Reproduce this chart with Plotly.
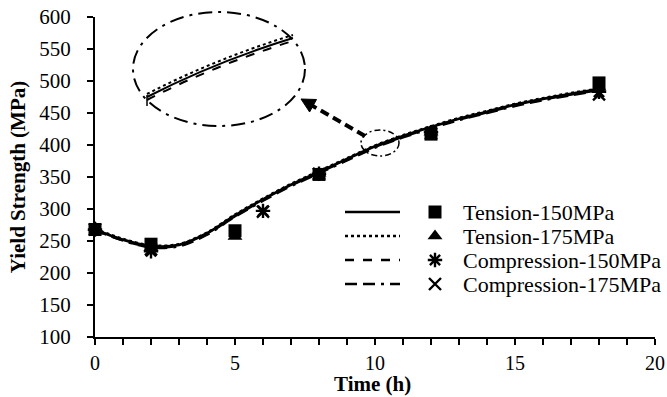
import plotly.graph_objects as go

# ---------------- data ----------------
curve_t = [0, 1, 2, 3, 4, 5, 6, 7, 8, 9, 10, 11, 12, 13, 14, 15, 16, 17, 18]
curve_t150 = [268, 252, 242, 244, 262, 290, 315, 338, 358, 378, 398, 414, 428, 441, 452, 463, 472, 480, 487]
curve_t175 = [269, 253, 243, 245, 263, 291, 316, 339, 359, 379, 399, 415, 429, 442, 453, 464, 473, 481, 488]
curve_c150 = [267, 251, 241, 243, 261, 289, 314, 337, 357, 377, 397, 413, 427, 440, 451, 462, 471, 479, 486]
curve_c175 = [267, 251, 240, 242, 260, 288, 313, 336, 356, 376, 396, 412, 426, 439, 450, 461, 470, 478, 485]

t_tension = [0, 2, 5, 8, 12, 18]
y_t150 = [268, 245, 266, 354, 417, 497]
y_t175 = [271, 240, 257, 356, 420, 490]

t_comp = [0, 2, 6, 8, 12, 18]
y_c150 = [268, 234, 297, 355, 420, 483]
y_c175 = [268, 237, 296, 355, 418, 479]

series_names = ["Tension-150MPa", "Tension-175MPa", "Compression-150MPa", "Compression-175MPa"]

x_ticks = [0, 5, 10, 15, 20]
y_ticks = [100, 150, 200, 250, 300, 350, 400, 450, 500, 550, 600]

# ---------------- layout geometry (pixels) ----------------
W, H = 667, 397
L, R, T, B = 95, 12, 17, 60
PW, PH = W - L - R, H - T - B


def px(x, y):
    """pixel -> paper coordinates"""
    return (x - L) / PW, (H - B - y) / PH


FONT = "Liberation Serif, Times New Roman, serif"
BLACK = "black"

fig = go.Figure()

line_styles = ["solid", "dot", "dash", "12px,6px,12px,6px,3px,6px"]
curves = [curve_t150, curve_t175, curve_c150, curve_c175]
for name, yv, dash in zip(series_names, curves, line_styles):
    fig.add_trace(go.Scatter(x=curve_t, y=yv, mode="lines", line=dict(color=BLACK, width=2.7, dash=dash, shape="spline", smoothing=1.0),
                             showlegend=False, name=name + " fit"))

marker_defs = [
    dict(symbol="x-thin-open", size=12, color=BLACK, line=dict(color=BLACK, width=2.4)),
    dict(symbol="asterisk-open", size=12, color=BLACK, line=dict(color=BLACK, width=2.4)),
    dict(symbol="triangle-up", size=13, color=BLACK, line=dict(width=0)),
    dict(symbol="square", size=13, color=BLACK, line=dict(width=0)),
]
pts = [(t_comp, y_c175), (t_comp, y_c150), (t_tension, y_t175), (t_tension, y_t150)]
for (tx, ty), md in zip(pts, marker_defs):
    fig.add_trace(go.Scatter(x=tx, y=ty, mode="markers", marker=md, showlegend=False, cliponaxis=False))

# ---------------- manual legend ----------------
rows_y = [212, 236, 260, 284]
leg_marks = [marker_defs[3], marker_defs[2], marker_defs[1], marker_defs[0]]
shapes = []
annotations = []
for i, (name, dash, md) in enumerate(zip(series_names, line_styles, leg_marks)):
    yy = rows_y[i]
    x0, y0 = px(345, yy)
    x1, _ = px(400, yy)
    shapes.append(dict(type="line", xref="paper", yref="paper", x0=x0, y0=y0, x1=x1, y1=y0,
                       line=dict(color=BLACK, width=2.7, dash=dash)))
    fig.add_trace(go.Scatter(x=[435], y=[yy], mode="markers", marker=md, xaxis="x2", yaxis="y2",
                             showlegend=False, cliponaxis=False, hoverinfo="skip"))
    tx, ty = px(461, yy)
    annotations.append(dict(x=tx, y=ty, xref="paper", yref="paper", text=name, showarrow=False,
                            xanchor="left", yanchor="middle", font=dict(family=FONT, size=22, color=BLACK)))

# x-axis title as annotation (fixed position)
tx, ty = px(372, 384)
annotations.append(dict(x=tx, y=ty, xref="paper", yref="paper", text="<b>Time (h)</b>", showarrow=False,
                        xanchor="center", yanchor="middle", font=dict(family=FONT, size=21, color=BLACK)))

# ---------------- magnifier decoration ----------------
ex0, ey1 = px(133, 12)
ex1, ey0 = px(305, 126)
shapes.append(dict(type="circle", xref="paper", yref="paper", x0=ex0, y0=ey0, x1=ex1, y1=ey1,
                   line=dict(color=BLACK, width=2, dash="14px,6px,3px,6px")))
sx0, sy1 = px(361, 130)
sx1, sy0 = px(399, 156)
shapes.append(dict(type="circle", xref="paper", yref="paper", x0=sx0, y0=sy0, x1=sx1, y1=sy1,
                   line=dict(color=BLACK, width=1.5, dash="6px,3px,2px,3px")))


def qpath(p0, c, p1, off):
    a = px(p0[0], p0[1] + off)
    b = px(c[0], c[1] + off)
    d = px(p1[0], p1[1] + off)
    return f"M {a[0]},{a[1]} Q {b[0]},{b[1]} {d[0]},{d[1]}"


P0, C, P1 = (147, 97), (215, 62), (293, 38)
for off, dash in [(-3, "dot"), (0, "solid"), (3, "dash")]:
    shapes.append(dict(type="path", xref="paper", yref="paper", path=qpath(P0, C, P1, off),
                       line=dict(color=BLACK, width=2, dash=dash)))
vx, vy0 = px(147, 95)
_, vy1 = px(147, 106)
shapes.append(dict(type="line", xref="paper", yref="paper", x0=vx, y0=vy0, x1=vx, y1=vy1, line=dict(color=BLACK, width=1.5)))

# dashed arrow
ax0, ay0 = px(365, 136)
ax1, ay1 = px(311, 105)
shapes.append(dict(type="line", xref="paper", yref="paper", x0=ax0, y0=ay0, x1=ax1, y1=ay1,
                   line=dict(color=BLACK, width=4, dash="9px,5px")))
h = px(301, 99)
b1 = px(309.6, 112)
b2 = px(316.5, 99.5)
shapes.append(dict(type="path", xref="paper", yref="paper",
                   path=f"M {h[0]},{h[1]} L {b1[0]},{b1[1]} L {b2[0]},{b2[1]} Z",
                   fillcolor=BLACK, line=dict(color=BLACK, width=1)))

fig.update_layout(
    width=W, height=H,
    margin=dict(l=L, r=R, t=T, b=B, pad=0),
    paper_bgcolor="white", plot_bgcolor="white",
    font=dict(family=FONT, size=21, color=BLACK),
    shapes=shapes, annotations=annotations,
    showlegend=False,
    xaxis=dict(range=[0, 20], tickvals=x_ticks, showgrid=False, zeroline=False, showline=True,
               linecolor=BLACK, linewidth=2, ticks="outside", ticklen=6, tickwidth=1.5, tickcolor=BLACK,
               minor=dict(dtick=1, ticks="outside", ticklen=6, tickwidth=1.5, tickcolor=BLACK),
               tickfont=dict(family=FONT, size=20), ticklabelstandoff=1, automargin=False),
    yaxis=dict(range=[100, 600], tickvals=y_ticks, showgrid=False, zeroline=False, showline=True,
               linecolor=BLACK, linewidth=2, ticks="outside", ticklen=6, tickwidth=1.5, tickcolor=BLACK,
               title=dict(text="<b>Yield Strength (MPa)</b>", font=dict(family=FONT, size=21), standoff=8),
               tickfont=dict(family=FONT, size=21), ticklabelstandoff=12, automargin=False),
    xaxis2=dict(range=[L, W - R], overlaying="x", visible=False, fixedrange=True),
    yaxis2=dict(range=[H - B, T], overlaying="y", visible=False, fixedrange=True),
)

fig.write_html("out.html")
